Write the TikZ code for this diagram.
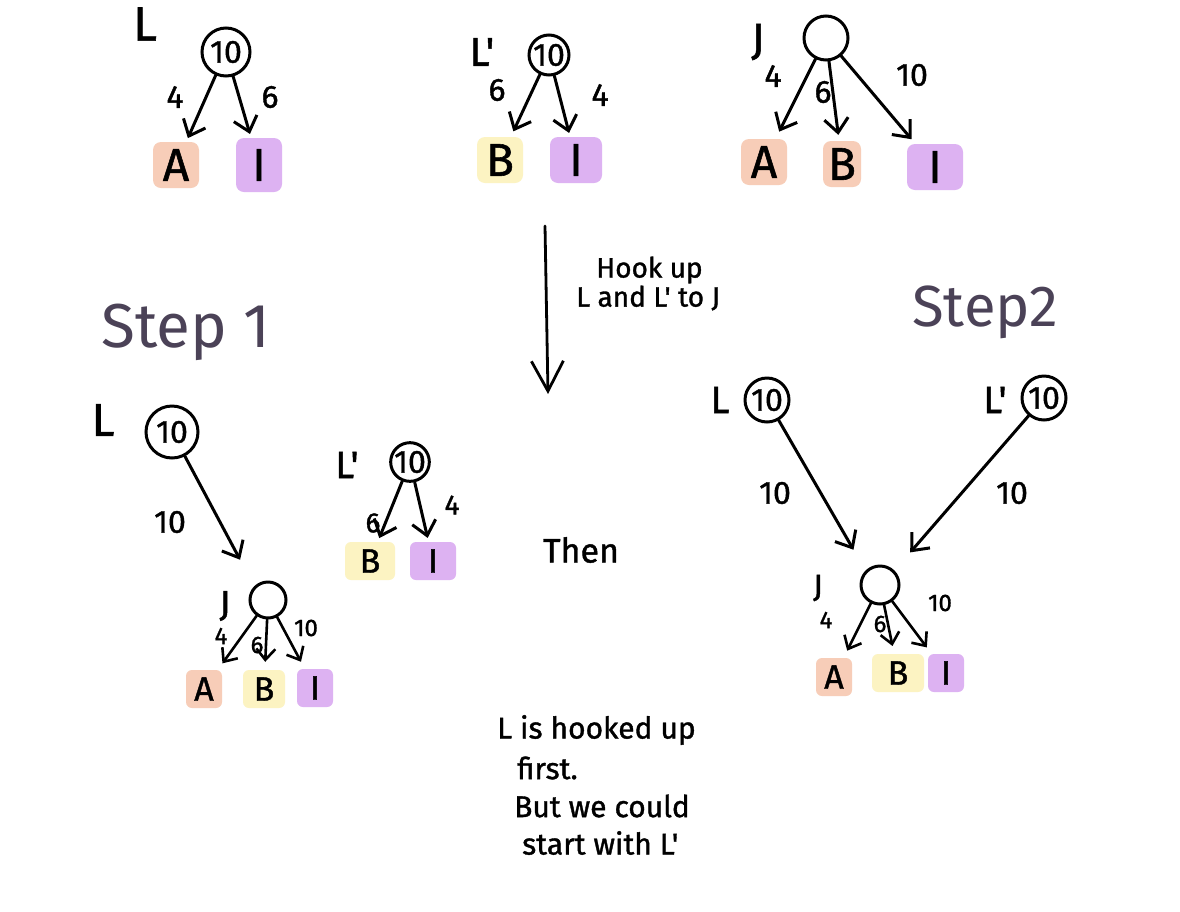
\documentclass[tikz,border=0pt]{standalone}
\usepackage{fontspec}
\setmainfont{Fira Sans}
\newfontfamily\handfont{Fira Sans}[FakeBold=1.2]
\usetikzlibrary{arrows.meta}
\definecolor{hlo}{HTML}{F7CDB8}
\definecolor{hlp}{HTML}{DDB2F2}
\definecolor{hly}{HTML}{FCF3C2}
\definecolor{stepc}{HTML}{4B4257}
\tikzset{
  fs/.style={font=\handfont\fontsize{#1}{#1}\selectfont},
  circ/.style={circle, draw, line width=3pt, inner sep=0pt, minimum size=#1, fs=32},
  lab/.style={fs=32, inner sep=0pt},
  tag/.style={fs=48, inner sep=0pt},
  leaf/.style={fill=#1, fs=46, rounded corners=8pt, minimum width=46pt, minimum height=46pt, inner sep=0pt},
  sleaf/.style={fill=#1, fs=34, rounded corners=6pt, minimum width=36pt, minimum height=38pt, inner sep=0pt},
  edge/.style={line width=3pt, line cap=round, -{Straight Barb[length=14pt,width=24pt,line width=3pt]}},
  sedge/.style={line width=2.6pt, line cap=round, shorten >=8pt, -{Straight Barb[length=11pt,width=19pt,line width=2.6pt]}},
  stepttl/.style={font=\fontsize{62}{62}\selectfont, text=stepc, inner sep=0pt},
  note/.style={fs=30, inner sep=0pt, anchor=west},
}
\begin{document}
\begin{tikzpicture}[x=1pt,y=-1pt]
\useasboundingbox[fill=white] (0,0) rectangle (1180,911);

% ---------- top left: L ----------
\node[tag] (tL) at (145,24) {L};
\node[circ=48pt] (c1) at (226,52) {10};
\node[leaf=hlo] (A1) at (176,165) {A};
\node[leaf=hlp, minimum height=54pt] (I1) at (259,165) {I};
\draw[edge, shorten >=4pt] (c1) -- (A1);
\draw[edge, shorten >=4pt] (c1) -- (I1);
\node[lab] (w11) at (175,97) {4};
\node[lab] (w12) at (270,97) {6};

% ---------- top middle: L' ----------
\node[tag, fs=40] (tLp) at (482,52) {L'};
\node[circ=40pt] (c2) at (549,55) {10};
\node[leaf=hly] (B2) at (500,160) {B};
\node[leaf=hlp, minimum width=52pt] (I2) at (576,160) {I};
\draw[edge, shorten >=6pt] (c2) -- (B2);
\draw[edge, shorten >=4pt] (c2) -- (I2);
\node[lab] (w21) at (497,90) {6};
\node[lab] (w22) at (600,95) {4};

% ---------- top right: J ----------
\node[tag, fs=44] (tJ) at (758,42) {J};
\node[circ=44pt] (c3) at (826,38) {};
\node[leaf=hlo] (A3) at (764,162) {A};
\node[leaf=hlo, minimum width=38pt] (B3) at (842,164) {B};
\node[leaf=hlp, minimum width=56pt] (I3) at (935,167) {I};
\draw[edge, shorten >=8pt] (c3) -- (A3);
\draw[edge, shorten >=6pt] (c3) -- (B3);
\draw[edge, shorten >=6pt] (c3) -- (I3);
\node[lab] (w31) at (773,76) {4};
\node[lab] (w32) at (823,92) {6};
\node[lab] (w33) at (912,75) {10};

% ---------- middle arrow ----------
\coordinate (m1) at (545,226);
\coordinate (m2) at (548,394);
\draw[line width=2.8pt, line cap=round, -{Straight Barb[length=30pt,width=32pt,line width=2.8pt]}] (m1) -- (m2);
\node[note, fs=28] (hk1) at (596,270) {Hook up};
\node[note, fs=28] (hk2) at (576,298) {L and L' to J};

% ---------- step titles ----------
\node[stepttl] (s1) at (186,332) {Step 1};
\node[stepttl, font=\fontsize{58}{58}\selectfont] (s2) at (985,312) {Step2};

% ---------- step 1 ----------
\node[tag, fs=46] (tL4) at (103,420) {L};
\node[circ=52pt] (c4) at (172,432) {10};
\node[circ=36pt] (c5) at (268,600) {};
\node[tag, fs=36] (tJ5) at (225,606) {J};
\draw[edge, shorten >=30pt] (c4) -- (c5.north west);
\node[lab] (w45) at (170,522) {10};
\node[sleaf=hlo] (A5) at (204,689) {A};
\node[sleaf=hly, minimum width=42pt] (B5) at (264,689) {B};
\node[sleaf=hlp] (I5) at (315,688) {I};
\draw[sedge] (c5) -- (A5);
\draw[sedge] (c5) -- (B5);
\draw[sedge] (c5) -- (I5);
\node[lab, fs=24] (w51) at (221,636) {4};
\node[lab, fs=24] (w52) at (257,645) {6};
\node[lab, fs=24] (w53) at (306,628) {10};

\node[tag, fs=38] (tL6) at (347,465) {L'};
\node[circ=38pt] (c6) at (410,462) {10};
\node[sleaf=hly, minimum width=50pt] (B6) at (370,561) {B};
\node[sleaf=hlp, minimum width=46pt] (I6) at (433,561) {I};
\draw[edge, shorten >=4pt] (c6) -- (B6);
\draw[edge, shorten >=4pt] (c6) -- (I6);
\node[lab, fs=28] (w61) at (373,523) {6};
\node[lab, fs=28] (w62) at (452,505) {4};

\node[fs=34, inner sep=0pt] (then) at (581,550) {Then};

% ---------- step 2 ----------
\node[tag, fs=38] (tL7) at (720,400) {L};
\node[circ=44pt] (c7) at (767,400) {10};
\node[tag, fs=38] (tL8) at (995,400) {L'};
\node[circ=44pt] (c8) at (1044,398) {10};
\node[circ=38pt] (c9) at (880,585) {};
\node[tag, fs=32] (tJ9) at (818,588) {J};
\draw[edge, shorten >=24pt] (c7) -- (c9.north west);
\draw[edge, shorten >=24pt] (c8) -- (c9.north east);
\node[lab] (w79) at (775,493) {10};
\node[lab] (w89) at (1012,493) {10};
\node[sleaf=hlo] (A9) at (834,677) {A};
\node[sleaf=hly, minimum width=52pt] (B9) at (898,673) {B};
\node[sleaf=hlp] (I9) at (946,673) {I};
\draw[sedge] (c9) -- (A9);
\draw[sedge] (c9) -- (B9);
\draw[sedge] (c9) -- (I9);
\node[lab, fs=24] (w91) at (826,620) {4};
\node[lab, fs=24] (w92) at (880,624) {6};
\node[lab, fs=24] (w93) at (940,603) {10};

% ---------- note ----------
\node[note] (n1) at (497,730) {L is hooked up};
\node[note] (n2) at (517,768) {first.};
\node[note] (n3) at (514,806) {But we could};
\node[note] (n4) at (522,843) {start with L'};
\end{tikzpicture}
\end{document}
